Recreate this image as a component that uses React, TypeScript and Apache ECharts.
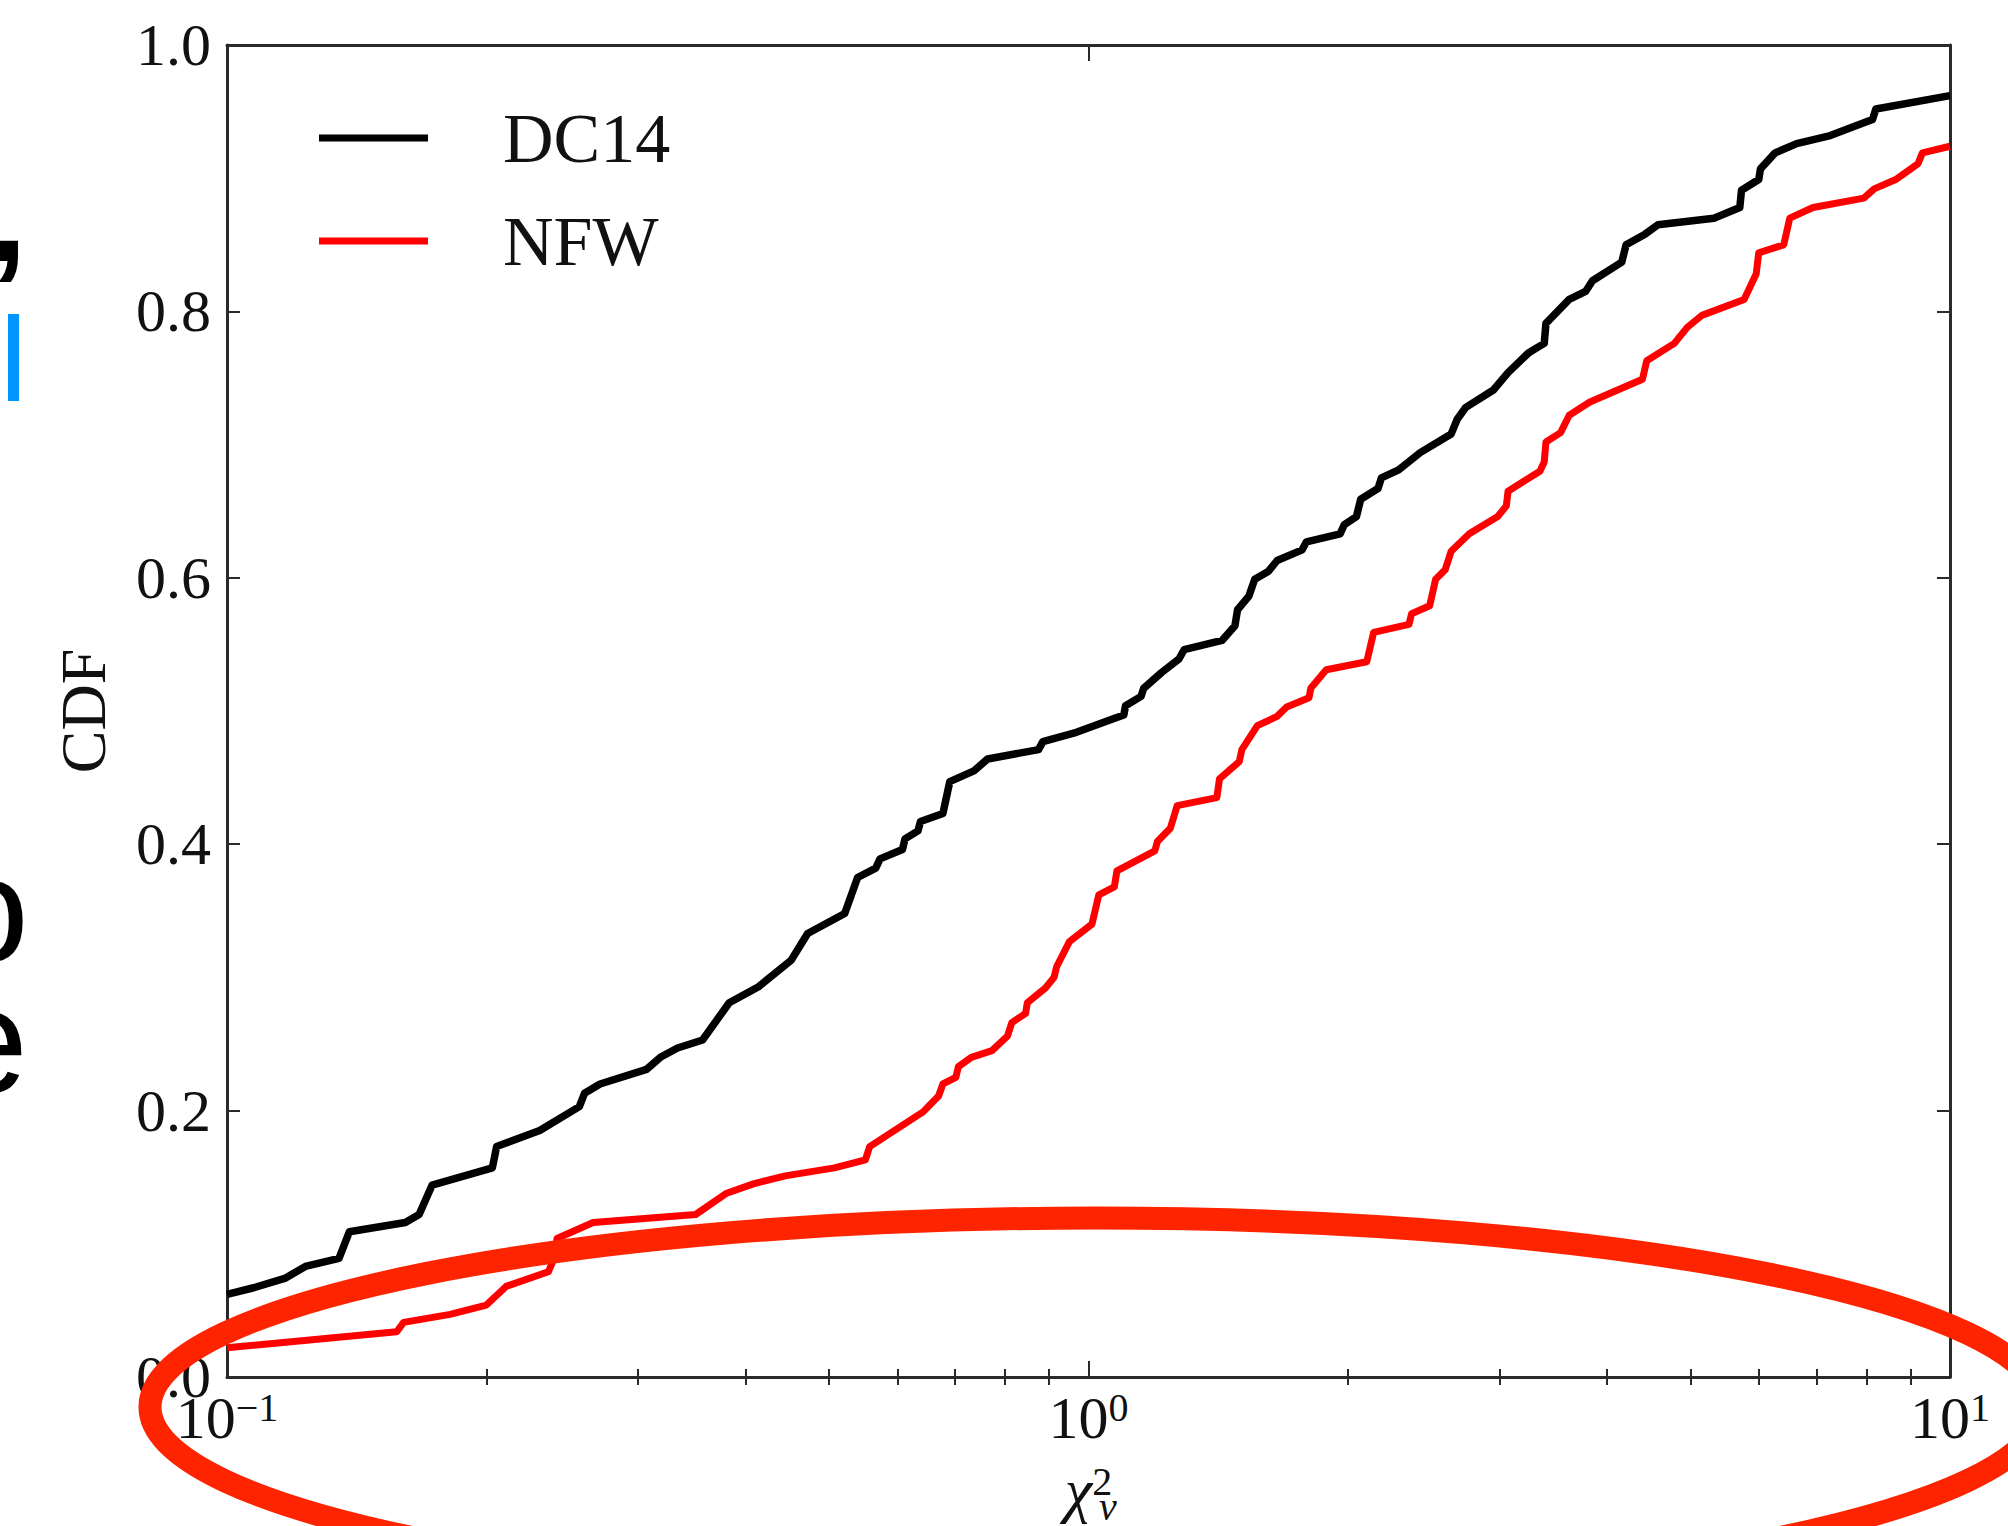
import React, { useEffect, useRef } from "react";
import * as echarts from "echarts";

// log10(chi^2_nu) positions and CDF values
const dc14LogChi2 = [
  -1.0, -0.969, -0.933, -0.909, -0.87, -0.858, -0.793, -0.777, -0.762, -0.692, -0.687, -0.637,
  -0.591, -0.585, -0.567, -0.513, -0.497, -0.477, -0.448, -0.417, -0.383, -0.345, -0.326,
  -0.283, -0.268, -0.247, -0.242, -0.216, -0.213, -0.198, -0.195, -0.169, -0.161, -0.133,
  -0.117, -0.058, -0.053, -0.014, 0.028, 0.041, 0.043, 0.061, 0.064, 0.085, 0.105, 0.111,
  0.155, 0.17, 0.173, 0.186, 0.193, 0.209, 0.219, 0.248, 0.253, 0.292, 0.297, 0.311, 0.316,
  0.336, 0.34, 0.36, 0.385, 0.421, 0.428, 0.438, 0.47, 0.487, 0.511, 0.529, 0.531, 0.558,
  0.577, 0.585, 0.619, 0.624, 0.646, 0.661, 0.726, 0.756, 0.758, 0.778, 0.78, 0.797, 0.822,
  0.861, 0.91, 0.914, 1.0,
];
const dc14Cdf = [
  0.062, 0.067, 0.074, 0.083, 0.089, 0.109, 0.116, 0.122, 0.144, 0.157, 0.173, 0.185,
  0.203, 0.213, 0.22, 0.231, 0.24, 0.247, 0.253, 0.281, 0.293, 0.313, 0.333,
  0.348, 0.375, 0.382, 0.389, 0.396, 0.404, 0.41, 0.417, 0.423, 0.447, 0.455,
  0.464, 0.471, 0.477, 0.484, 0.494, 0.497, 0.504, 0.511, 0.517, 0.529, 0.539, 0.546,
  0.553, 0.564, 0.576, 0.586, 0.599, 0.605, 0.613, 0.621, 0.627, 0.633, 0.64, 0.646, 0.659,
  0.667, 0.675, 0.681, 0.694, 0.708, 0.719, 0.728, 0.741, 0.754, 0.769, 0.776, 0.791, 0.809,
  0.815, 0.823, 0.837, 0.85, 0.858, 0.865, 0.87, 0.878, 0.891, 0.899, 0.907, 0.919, 0.926,
  0.932, 0.944, 0.952, 0.962,
];

const nfwLogChi2 = [
  -1.0, -0.803, -0.795, -0.741, -0.699, -0.676, -0.627, -0.619, -0.617, -0.575, -0.456, -0.42,
  -0.389, -0.352, -0.295, -0.259, -0.254, -0.192, -0.174, -0.169, -0.154, -0.151, -0.136,
  -0.112, -0.094, -0.089, -0.073, -0.071, -0.05, -0.04, -0.037, -0.022, 0.004, 0.012, 0.03,
  0.033, 0.077, 0.08, 0.095, 0.103, 0.149, 0.152, 0.175, 0.178, 0.196, 0.219, 0.23, 0.256,
  0.258, 0.276, 0.323, 0.331, 0.372, 0.375, 0.396, 0.403, 0.414, 0.421, 0.442, 0.475, 0.485,
  0.487, 0.524, 0.529, 0.531, 0.548, 0.558, 0.582, 0.643, 0.648, 0.68, 0.695, 0.712, 0.761,
  0.775, 0.778, 0.807, 0.814, 0.841, 0.9, 0.912, 0.937, 0.963, 0.968, 1.0,
];
const nfwCdf = [
  0.022, 0.034, 0.041, 0.047, 0.054, 0.068, 0.079, 0.091, 0.104, 0.116, 0.122, 0.138,
  0.145, 0.151, 0.157, 0.163, 0.173, 0.199, 0.211, 0.22, 0.225, 0.233, 0.24,
  0.245, 0.256, 0.266, 0.273, 0.281, 0.292, 0.3, 0.308, 0.327, 0.34, 0.362, 0.368,
  0.38, 0.395, 0.402, 0.412, 0.429, 0.435, 0.449, 0.462, 0.471, 0.489, 0.496, 0.503, 0.51,
  0.517, 0.531, 0.537, 0.559, 0.565, 0.573, 0.579, 0.599, 0.606, 0.62, 0.633, 0.646, 0.654,
  0.665, 0.68, 0.687, 0.702, 0.709, 0.722, 0.732, 0.749, 0.763, 0.776, 0.788, 0.797, 0.809,
  0.828, 0.844, 0.85, 0.87, 0.878, 0.885, 0.892, 0.899, 0.911, 0.919, 0.924,
];

const seriesNames = ["DC14", "NFW"];
const seriesColors = ["#000000", "#ff0000"];
const xMajorTicks = [-1, 0, 1];
const yTickLabels = ["0.0", "0.2", "0.4", "0.6", "0.8", "1.0"];
const minorMultipliers = [2, 3, 4, 5, 6, 7, 8, 9];

const SERIF = "'Liberation Serif', 'Times New Roman', serif";
const SANS = "'Liberation Sans', Arial, sans-serif";

export default function App() {
  const ref = useRef<HTMLDivElement>(null);

  useEffect(() => {
    if (!ref.current) return;
    const chart = echarts.init(ref.current, undefined, { renderer: "svg" });

    const minorTicks: number[] = [];
    xMajorTicks.slice(0, -1).forEach((d) => {
      minorMultipliers.forEach((m) => minorTicks.push(d + Math.log10(m)));
    });

    const axisColor = "#2a2a2a";
    const supLabel = (v: number) => {
      const e = v < 0 ? "\u2212" + Math.abs(v) : String(v);
      return "{b|10}{s|" + e + "}";
    };
    const labelRich = {
      b: { fontFamily: SERIF, fontSize: 60, color: "#111", lineHeight: 62 },
      s: { fontFamily: SERIF, fontSize: 40, color: "#111", verticalAlign: "top", lineHeight: 62 },
    };

    const glyph = (text: string, x: number, y: number, font: string, lh: number) => ({
      type: "text",
      z: 50,
      style: {
        text,
        x,
        y,
        fill: "#000",
        font,
        lineHeight: lh,
        textAlign: "right",
        textVerticalAlign: "middle",
        align: "right",
        verticalAlign: "middle",
      },
    });

    const option: any = {
      animation: false,
      backgroundColor: "#ffffff",
      grid: { left: 227, right: 58, top: 45, bottom: 147, containLabel: false },
      legend: {
        orient: "vertical",
        left: 314,
        top: 98,
        itemGap: 33,
        itemWidth: 109,
        itemHeight: 7,
        icon: "rect",
        data: seriesNames,
        textStyle: {
          fontFamily: SERIF,
          fontSize: 70,
          lineHeight: 70,
          color: "#111",
          padding: [0, 0, 0, 70],
        },
      },
      xAxis: [
        {
          type: "value",
          position: "bottom",
          min: -1,
          max: 1,
          interval: 1,
          name: "{c|\u03c7}{s|2}",
          nameLocation: "middle",
          nameGap: 84,
          nameTextStyle: {
            rich: {
              c: { fontFamily: SERIF, fontStyle: "italic", fontSize: 62, color: "#111", lineHeight: 58 },
              s: { fontFamily: SERIF, fontSize: 40, color: "#111", verticalAlign: "top", lineHeight: 58 },
            },
          },
          axisLine: { show: true, onZero: false, lineStyle: { color: axisColor, width: 3 } },
          axisTick: { show: true, inside: true, length: 16, lineStyle: { color: axisColor, width: 2 } },
          axisLabel: {
            show: true,
            margin: 10,
            formatter: (v: number) => supLabel(v),
            rich: labelRich,
          },
          splitLine: { show: false },
        },
        {
          type: "value",
          position: "bottom",
          min: -1,
          max: 1,
          axisLine: { show: false },
          axisTick: {
            show: true,
            inside: true,
            length: 8,
            customValues: minorTicks,
            lineStyle: { color: axisColor, width: 2 },
          },
          axisLabel: { show: false },
          splitLine: { show: false },
        },
        {
          type: "value",
          position: "top",
          min: -1,
          max: 1,
          interval: 1,
          axisLine: { show: true, onZero: false, lineStyle: { color: axisColor, width: 3 } },
          axisTick: { show: true, inside: true, length: 16, lineStyle: { color: axisColor, width: 2 } },
          axisLabel: { show: false },
          splitLine: { show: false },
        },
        {
          type: "value",
          position: "top",
          min: -1,
          max: 1,
          axisLine: { show: false },
          axisTick: {
            show: true,
            inside: true,
            length: 8,
            customValues: minorTicks,
            lineStyle: { color: axisColor, width: 2 },
          },
          axisLabel: { show: false },
          splitLine: { show: false },
        },
      ],
      yAxis: [
        {
          type: "value",
          position: "left",
          min: 0,
          max: 1,
          interval: 0.2,
          name: "CDF",
          nameLocation: "middle",
          nameGap: 112,
          nameTextStyle: { fontFamily: SERIF, fontSize: 64, color: "#111" },
          axisLine: { show: true, onZero: false, lineStyle: { color: axisColor, width: 3 } },
          axisTick: { show: true, inside: true, length: 13, lineStyle: { color: axisColor, width: 2 } },
          axisLabel: {
            show: true,
            margin: 16,
            fontFamily: SERIF,
            fontSize: 60,
            color: "#111",
            formatter: (v: number) => yTickLabels[Math.round(v * 5)] ?? v.toFixed(1),
          },
          splitLine: { show: false },
        },
        {
          type: "value",
          position: "right",
          min: 0,
          max: 1,
          interval: 0.2,
          axisLine: { show: true, onZero: false, lineStyle: { color: axisColor, width: 3 } },
          axisTick: { show: true, inside: true, length: 13, lineStyle: { color: axisColor, width: 2 } },
          axisLabel: { show: false },
          splitLine: { show: false },
        },
      ],
      series: [
        {
          name: seriesNames[0],
          type: "line",
          xAxisIndex: 0,
          yAxisIndex: 0,
          showSymbol: false,
          symbol: "none",
          color: seriesColors[0],
          lineStyle: { color: seriesColors[0], width: 7.5, join: "round", cap: "butt" },
          data: dc14LogChi2.map((x, i) => [x, dc14Cdf[i]]),
          z: 3,
        },
        {
          name: seriesNames[1],
          type: "line",
          xAxisIndex: 0,
          yAxisIndex: 0,
          showSymbol: false,
          symbol: "none",
          color: seriesColors[1],
          lineStyle: { color: seriesColors[1], width: 7, join: "round", cap: "butt" },
          data: nfwLogChi2.map((x, i) => [x, nfwCdf[i]]),
          z: 3,
        },
      ],
      graphic: [
        {
          type: "text",
          z: 50,
          style: {
            text: "\u03bd",
            x: 1108,
            y: 1506,
            fill: "#111",
            font: "italic 40px " + SERIF,
            lineHeight: 34,
            textAlign: "center",
            textVerticalAlign: "middle",
            align: "center",
            verticalAlign: "middle",
          },
        },
        glyph(",", 27, 214, "bold 135px " + SANS, 100),
        {
          type: "rect",
          z: 50,
          shape: { x: 8, y: 314, width: 11, height: 87 },
          style: { fill: "#0096ff" },
        },
        glyph("o", 29, 910, "150px " + SANS, 100),
        glyph("e", 28, 1041, "150px " + SANS, 100),
        {
          type: "ellipse",
          z: 100,
          shape: { cx: 1096, cy: 1407, rx: 946, ry: 189 },
          style: { fill: "none", stroke: "#ff2400", lineWidth: 23 },
        },
      ],
    };

    chart.setOption(option);
    return () => chart.dispose();
  }, []);

  return (
    <div
      ref={ref}
      style={{ position: "absolute", left: 0, top: 0, width: 2008, height: 1526, background: "#fff" }}
    />
  );
}
